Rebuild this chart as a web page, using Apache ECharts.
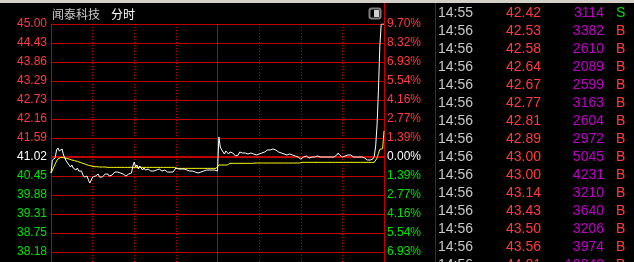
<!DOCTYPE html>
<html><head><meta charset="utf-8">
<script src="https://cdn.jsdelivr.net/npm/echarts@6/dist/echarts.min.js"></script>
<style>html,body{margin:0;padding:0;background:#000;overflow:hidden}#c{width:634px;height:262px}</style>
</head><body><div id="c"></div>
<script>
// ---------- data ----------
var stockName = '闻泰科技';
var viewName = '分时';
var prevClose = 41.02;
var priceTicks = ['45.00','44.43','43.86','43.29','42.73','42.16','41.59','41.02','40.45','39.88','39.31','38.75','38.18'];
var pctTicks = ['9.70%','8.32%','6.93%','5.54%','4.16%','2.77%','1.39%','0.00%','1.39%','2.77%','4.16%','5.54%','6.93%'];

var price = [
40.54,40.93,40.93,40.99,41.23,41.29,41.20,41.23,41.26,41.08,
40.99,40.90,40.84,40.78,40.72,40.78,40.69,40.72,40.63,40.69,
40.60,40.57,40.60,40.48,40.42,40.39,40.45,40.33,40.24,40.33,
40.42,40.39,40.45,40.48,40.51,40.42,40.45,40.42,40.45,40.51,
40.54,40.51,40.45,40.48,40.48,40.51,40.57,40.60,40.57,40.54,
40.54,40.57,40.51,40.51,40.45,40.48,40.51,40.48,40.54,40.75,
40.87,40.72,40.78,40.66,40.75,40.69,40.63,40.69,40.63,40.63,
40.66,40.63,40.60,40.63,40.60,40.60,40.63,40.63,40.66,40.63,
40.60,40.60,40.63,40.60,40.57,40.57,40.57,40.57,40.57,40.60,
40.69,40.72,40.66,40.69,40.66,40.66,40.66,40.63,40.63,40.63,
40.60,40.63,40.60,40.57,40.57,40.57,40.54,40.57,40.57,40.60,
40.60,40.63,40.63,40.60,40.63,40.60,40.63,40.60,40.63,40.60,
40.60,
41.62,41.32,41.23,41.20,41.11,41.20,41.17,41.11,41.17,41.14,
41.14,41.11,41.05,41.02,41.08,41.17,41.20,41.14,41.17,41.14,
41.14,41.11,41.14,41.14,41.14,41.11,41.11,41.08,41.08,41.11,
41.14,41.14,41.17,41.17,41.20,41.23,41.23,41.23,41.26,41.26,
41.23,41.23,41.20,41.17,41.14,41.14,41.14,41.11,41.08,41.08,
41.11,41.11,41.08,41.08,41.05,41.05,41.02,41.02,40.99,40.96,
40.93,41.02,41.02,41.05,41.02,40.99,40.99,41.02,41.02,41.02,
41.02,41.05,41.05,41.02,41.02,41.02,41.02,41.02,41.02,41.02,
41.02,41.02,41.02,41.02,41.05,41.08,41.14,41.08,41.05,41.02,
41.02,41.05,41.08,41.08,41.08,41.08,41.05,41.02,41.02,41.02,
41.02,41.02,41.02,41.02,41.02,40.99,40.96,40.93,40.93,40.93,
40.90,40.96,41.05,41.35,41.98,43.02,44.34,45.00,45.00,45.00
];

var avgPrice = [
40.54,40.63,40.72,40.81,40.90,40.96,41.00,41.01,41.01,41.00,
40.99,40.98,40.97,40.96,40.94,40.93,40.92,40.91,40.90,40.89,
40.87,40.86,40.84,40.83,40.81,40.80,40.78,40.77,40.76,40.75,
40.74,40.73,40.73,40.73,40.72,40.72,40.72,40.72,40.72,40.72,
40.71,40.71,40.71,40.71,40.71,40.71,40.71,40.71,40.71,40.71,
40.71,40.71,40.71,40.71,40.71,40.71,40.71,40.71,40.71,40.71,
40.71,40.71,40.71,40.71,40.71,40.71,40.71,40.71,40.71,40.71,
40.71,40.71,40.71,40.71,40.71,40.71,40.71,40.71,40.71,40.71,
40.71,40.71,40.71,40.71,40.71,40.71,40.71,40.71,40.71,40.71,
40.68,40.68,40.68,40.68,40.68,40.68,40.68,40.68,40.68,40.68,
40.68,40.68,40.68,40.68,40.68,40.68,40.68,40.68,40.68,40.68,
40.68,40.68,40.68,40.68,40.68,40.68,40.68,40.68,40.68,40.68,
40.68,
40.78,40.78,40.78,40.78,40.78,40.78,40.78,40.83,40.83,40.83,
40.83,40.83,40.83,40.83,40.83,40.83,40.83,40.83,40.83,40.83,
40.83,40.83,40.83,40.83,40.83,40.83,40.84,40.84,40.84,40.84,
40.84,40.84,40.84,40.84,40.84,40.84,40.84,40.84,40.84,40.84,
40.84,40.84,40.84,40.84,40.84,40.84,40.84,40.84,40.84,40.84,
40.84,40.84,40.84,40.84,40.84,40.84,40.84,40.84,40.84,40.84,
40.86,40.86,40.86,40.86,40.86,40.86,40.86,40.86,40.86,40.86,
40.86,40.86,40.86,40.86,40.86,40.86,40.86,40.86,40.86,40.86,
40.86,40.86,40.86,40.86,40.86,40.86,40.86,40.86,40.86,40.86,
40.86,40.86,40.86,40.86,40.86,40.86,40.86,40.86,40.86,40.86,
40.86,40.86,40.86,40.86,40.86,40.86,40.86,40.86,40.86,40.86,
40.86,40.86,40.86,40.90,40.99,41.13,41.25,41.26,41.27,41.80
];

var tradeTimes  = ['14:55','14:56','14:56','14:56','14:56','14:56','14:56','14:56','14:56','14:56','14:56','14:56','14:56','14:56','14:56'];
var tradePrices = ['42.42','42.53','42.58','42.64','42.67','42.77','42.81','42.89','43.00','43.00','43.14','43.43','43.50','43.56','44.01'];
var tradeVols   = ['3114','3382','2610','2089','2599','3163','2604','2972','5045','4231','3210','3640','3206','3974','10040'];
var tradeSides  = ['S','B','B','B','B','B','B','B','B','B','B','B','B','B','B'];

// minute categories 09:30-11:30, 13:01-15:00
var minutes = [];
(function(){
  function pad(n){return (n<10?'0':'')+n;}
  for (var m = 9*60+30; m <= 11*60+30; m++) minutes.push(pad(Math.floor(m/60))+':'+pad(m%60));
  for (var m2 = 13*60+1; m2 <= 15*60; m2++) minutes.push(pad(Math.floor(m2/60))+':'+pad(m2%60));
})();

// ---------- styles ----------
var GRID_RED = '#c00000';
var TXT_RED = '#ff3c3c';
var TXT_GREEN = '#00e000';
var TXT_WHITE = '#ffffff';
var FONT = '"Liberation Sans", Arial, sans-serif';
var tickVals = priceTicks.map(parseFloat);
var yMax = 45.00, yMin = 37.878;

function tickIndex(v){
  v = parseFloat(v);
  for (var i=0;i<tickVals.length;i++) if (Math.abs(tickVals[i]-v)<1e-6) return i;
  return -1;
}
function tickColor(v){
  var i = tickIndex(v);
  if (i < 0) return TXT_WHITE;
  var p = tickVals[i];
  return p > prevClose ? TXT_RED : (p < prevClose ? TXT_GREEN : TXT_WHITE);
}

var chart = echarts.init(document.getElementById('c'), null, {renderer:'canvas', width:634, height:262});

var graphics = [
  {type:'rect', shape:{x:0,y:0,width:634,height:3}, style:{fill:'#d4d0c8'}, z:100},
  {type:'text', x:52, y:14, style:{text:stockName, fill:'#c8c8c8', font:'12px "Noto Sans CJK SC", sans-serif', align:'left', verticalAlign:'middle'}},
  {type:'text', x:111, y:14, style:{text:viewName, fill:'#ffffff', font:'12px "Noto Sans CJK SC", sans-serif', align:'left', verticalAlign:'middle'}},
  {type:'rect', shape:{x:369.5,y:8.5,width:11,height:10,r:2}, style:{fill:'none', stroke:'#808080', lineWidth:2}},
  {type:'rect', shape:{x:374,y:10,width:5,height:7}, style:{fill:'#d0d0d0'}},
  {type:'line', shape:{x1:384.5,y1:3,x2:384.5,y2:24}, style:{stroke:GRID_RED, lineWidth:1}},
  {type:'line', shape:{x1:435.5,y1:3,x2:435.5,y2:262}, style:{stroke:'#a00000', lineWidth:1}}
];
for (var r=0; r<tradeTimes.length; r++){
  var cy = 13 + 18*r;
  graphics.push({type:'text', x:438, y:cy, style:{text:tradeTimes[r], fill:'#c8c8c8', font:'14px '+FONT, align:'left', verticalAlign:'middle'}});
  graphics.push({type:'text', x:541, y:cy, style:{text:tradePrices[r], fill:TXT_RED, font:'14px '+FONT, align:'right', verticalAlign:'middle'}});
  graphics.push({type:'text', x:604, y:cy, style:{text:tradeVols[r], fill:'#c000c8', font:'14px '+FONT, align:'right', verticalAlign:'middle'}});
  graphics.push({type:'text', x:616, y:cy, style:{text:tradeSides[r], fill:tradeSides[r]==='S'?TXT_GREEN:TXT_RED, font:'14px '+FONT, align:'left', verticalAlign:'middle'}});
}

var option = {
  backgroundColor:'#000000',
  animation:false,
  grid:{left:51, top:24, width:333, height:238, containLabel:false},
  xAxis:{
    type:'category', data:minutes, boundaryGap:false,
    axisLine:{show:false}, axisTick:{show:false}, axisLabel:{show:false},
    splitLine:{show:true, interval:function(i){ return i%30===0 && i!==0 && i!==120 && i!==240; },
      lineStyle:{color:GRID_RED, width:1, type:[1,2]}}
  },
  yAxis:[
    {type:'value', position:'left', min:yMin, max:yMax,
      axisLine:{show:true, lineStyle:{color:GRID_RED, width:1}},
      axisTick:{show:false, customValues:tickVals},
      axisLabel:{customValues:tickVals, margin:4, fontSize:12, fontFamily:FONT,
        formatter:function(v){ var i=tickIndex(v); return i<0?'':priceTicks[i]; },
        color:function(v){ return tickColor(v); }},
      splitLine:{show:true, lineStyle:{color:GRID_RED, width:1}}
    },
    {type:'value', position:'right', min:yMin, max:yMax,
      axisLine:{show:true, lineStyle:{color:GRID_RED, width:1}},
      axisTick:{show:false, customValues:tickVals},
      axisLabel:{customValues:tickVals, margin:3, fontSize:12, fontFamily:FONT,
        formatter:function(v){ var i=tickIndex(v); return i<0?'':pctTicks[i]; },
        color:function(v){ return tickColor(v); }},
      splitLine:{show:false}
    }
  ],
  series:[
    {type:'line', data:[], z:1, silent:true,
      markLine:{silent:true, symbol:'none', animation:false, label:{show:false},
        data:[
          {xAxis:minutes[120], lineStyle:{color:GRID_RED, type:'solid', width:1}},
          {yAxis:prevClose, lineStyle:{color:GRID_RED, type:'solid', width:2}}
        ]}
    },
    {name:'均价', type:'line', data:avgPrice, z:10, showSymbol:false, symbol:'none', smooth:false,
      lineStyle:{color:'#ffff00', width:1}, silent:true},
    {name:'价格', type:'line', data:price, z:11, showSymbol:false, symbol:'none', smooth:false,
      lineStyle:{color:'#ffffff', width:1}, silent:true}
  ],
  graphic:graphics
};
chart.setOption(option);
</script>
</body></html>
